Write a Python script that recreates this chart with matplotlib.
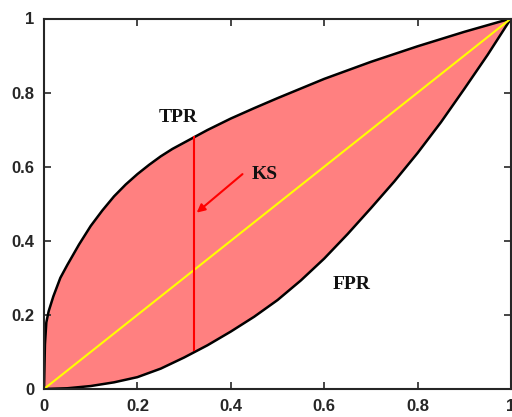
import numpy as np
import matplotlib
matplotlib.use('Agg')
import matplotlib.pyplot as plt

# TPR curve (upper)
tpr_x = [0, 0.002, 0.005, 0.01, 0.02, 0.035, 0.05, 0.075, 0.1, 0.125, 0.15, 0.175,
         0.2, 0.225, 0.25, 0.275, 0.3, 0.35, 0.4, 0.45, 0.5, 0.6, 0.7, 0.8, 0.9, 1.0]
tpr_y = [0, 0.12, 0.18, 0.21, 0.25, 0.30, 0.335, 0.39, 0.44, 0.482, 0.52, 0.552,
         0.58, 0.605, 0.628, 0.648, 0.665, 0.699, 0.73, 0.758, 0.785, 0.837, 0.883,
         0.925, 0.964, 1.0]

# FPR curve (lower)
fpr_x = [0, 0.05, 0.1, 0.15, 0.2, 0.25, 0.3, 0.35, 0.4, 0.45, 0.5, 0.55, 0.6,
         0.65, 0.7, 0.75, 0.8, 0.85, 0.9, 0.95, 1.0]
fpr_y = [0, 0.002, 0.008, 0.018, 0.032, 0.055, 0.085, 0.118, 0.155, 0.195, 0.24,
         0.293, 0.352, 0.418, 0.488, 0.56, 0.637, 0.72, 0.81, 0.902, 1.0]

# diagonal and KS line
diag = [0, 1]
ks_x = 0.322
ks_low = 0.105
ks_high = 0.68

fig = plt.figure(figsize=(5.12, 4.17), dpi=100)
ax = fig.add_axes([44 / 512, 1 - 389 / 417, 467 / 512, 370.5 / 417])

# shaded region between the two curves
poly_x = np.concatenate([tpr_x, fpr_x[::-1]])
poly_y = np.concatenate([tpr_y, fpr_y[::-1]])
ax.fill(poly_x, poly_y, color='#FF8080', linewidth=0)

ax.plot(tpr_x, tpr_y, color='black', linewidth=1.8)
ax.plot(fpr_x, fpr_y, color='black', linewidth=1.8)
ax.plot(diag, diag, color='#FFFF00', linewidth=1.5)
ax.plot([ks_x, ks_x], [ks_low, ks_high], color='red', linewidth=1.5)

ax.annotate('', xy=(0.327, 0.476), xytext=(0.425, 0.58),
            arrowprops=dict(arrowstyle='-|>', color='red', lw=1.5,
                            mutation_scale=12, shrinkA=0, shrinkB=0))

serif = dict(family='Liberation Serif', fontweight='bold', fontsize=14,
             color='#111111', ha='center', va='center')
ax.text(0.287, 0.733, 'TPR', **serif)
ax.text(0.473, 0.58, 'KS', **serif)
ax.text(0.659, 0.281, 'FPR', **serif)

ax.set_xlim(0, 1)
ax.set_ylim(0, 1)
ticks = [0, 0.2, 0.4, 0.6, 0.8, 1]
labels = ['0', '0.2', '0.4', '0.6', '0.8', '1']
ax.set_xticks(ticks)
ax.set_xticklabels(labels)
ax.set_yticks(ticks)
ax.set_yticklabels(labels)

for s in ax.spines.values():
    s.set_linewidth(1.5)
    s.set_color('#262626')
ax.tick_params(direction='in', length=5, width=1.2, colors='#262626',
               top=True, right=True, labelsize=12, pad=7)
for lab in ax.get_xticklabels() + ax.get_yticklabels():
    lab.set_fontweight('bold')
    lab.set_family('Liberation Sans')

fig.savefig('out.png', dpi=100)
